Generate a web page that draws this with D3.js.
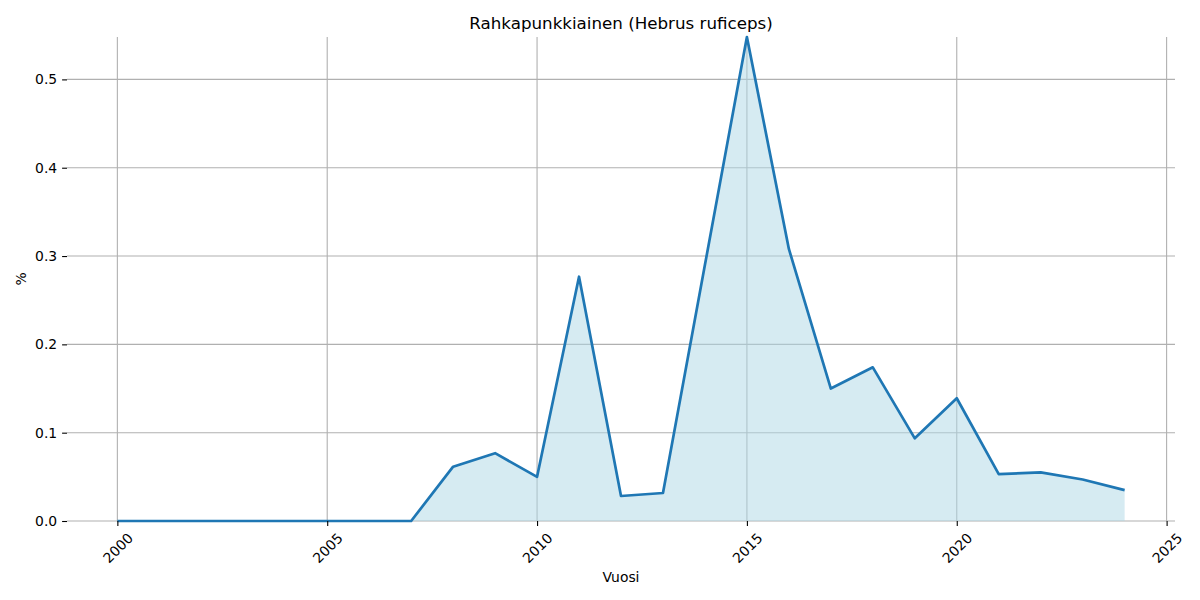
<!DOCTYPE html>
<html>
<head>
<meta charset="utf-8">
<title>Rahkapunkkiainen</title>
<style>
  body { margin: 0; background: #fff; font-family: 'DejaVu Sans', sans-serif; }
  .grid line { stroke: #b0b0b0; stroke-width: 1.1; }
  .tick text { font-size: 13.9px; fill: #000; font-family: 'DejaVu Sans', sans-serif; }
  .tick line { stroke: #000; stroke-width: 1.1; }
</style>
</head>
<body>
<script src="https://d3js.org/d3.v7.min.js"></script>
<script>

var years = [2000, 2001, 2002, 2003, 2004, 2005, 2006, 2007, 2008, 2009, 2010, 2011,
  2012, 2013, 2014, 2015, 2016, 2017, 2018, 2019, 2020, 2021, 2022, 2023, 2024];
var percent = [0, 0, 0, 0, 0, 0, 0, 0, 0.0615, 0.0768, 0.050, 0.2766,
  0.0283, 0.0317, 0.29, 0.548, 0.308, 0.150, 0.174, 0.0936, 0.139, 0.053, 0.055, 0.047, 0.035];
var xTicks = [2000, 2005, 2010, 2015, 2020, 2025];
var yTicks = [0, 0.1, 0.2, 0.3, 0.4, 0.5];

var width = 1200, height = 600;
var plotLeft = 67, plotRight = 1175, plotTop = 37, plotBottom = 521;

var svg = d3.select('body').append('svg')
  .attr('width', width)
  .attr('height', height);

var data = years.map(function (yr, i) { return { year: yr, value: percent[i] }; });

var x = d3.scaleLinear().domain([1998.8, 2025.2]).range([plotLeft, plotRight]);
var y = d3.scaleLinear().domain([0, d3.max(percent)]).range([plotBottom, plotTop]);

// grid
svg.append('g').attr('class', 'grid')
  .selectAll('line').data(xTicks).enter().append('line')
  .attr('x1', d => x(d)).attr('x2', d => x(d))
  .attr('y1', plotTop).attr('y2', plotBottom);
svg.append('g').attr('class', 'grid')
  .selectAll('line').data(yTicks).enter().append('line')
  .attr('x1', plotLeft).attr('x2', plotRight)
  .attr('y1', d => y(d)).attr('y2', d => y(d));

// fill + line
svg.append('path')
  .datum(data)
  .attr('fill', '#add8e6')
  .attr('fill-opacity', 0.5)
  .attr('d', d3.area().x(d => x(d.year)).y0(y(0)).y1(d => y(d.value)));

svg.append('path')
  .datum(data)
  .attr('fill', 'none')
  .attr('stroke', '#1f77b4')
  .attr('stroke-width', 2.7)
  .attr('stroke-linejoin', 'round')
  .attr('d', d3.line().x(d => x(d.year)).y(d => y(d.value)));

// axes
var xAxis = svg.append('g')
  .attr('transform', 'translate(0,' + plotBottom + ')')
  .call(d3.axisBottom(x).tickValues(xTicks).tickFormat(d3.format('d')).tickSize(4.9).tickPadding(0));
xAxis.select('.domain').remove();
xAxis.selectAll('.tick text')
  .attr('y', 0).attr('dy', null)
  .attr('text-anchor', 'middle')
  .attr('dominant-baseline', 'central')
  .attr('transform', 'translate(0,27) rotate(-45)');

var yAxis = svg.append('g')
  .attr('transform', 'translate(' + plotLeft + ',0)')
  .call(d3.axisLeft(y).tickValues(yTicks).tickFormat(d3.format('.1f')).tickSize(4.9).tickPadding(4.9));
yAxis.select('.domain').remove();

// labels
svg.append('text')
  .attr('x', (plotLeft + plotRight) / 2).attr('y', 29)
  .attr('text-anchor', 'middle')
  .style('font-size', '16.7px')
  .text('Rahkapunkkiainen (Hebrus ruficeps)');

svg.append('text')
  .attr('x', (plotLeft + plotRight) / 2).attr('y', 582)
  .attr('text-anchor', 'middle')
  .style('font-size', '13.9px')
  .text('Vuosi');

svg.append('text')
  .attr('transform', 'translate(26,' + ((plotTop + plotBottom) / 2) + ') rotate(-90)')
  .attr('text-anchor', 'middle')
  .style('font-size', '13.9px')
  .text('%');

</script>
</body>
</html>
